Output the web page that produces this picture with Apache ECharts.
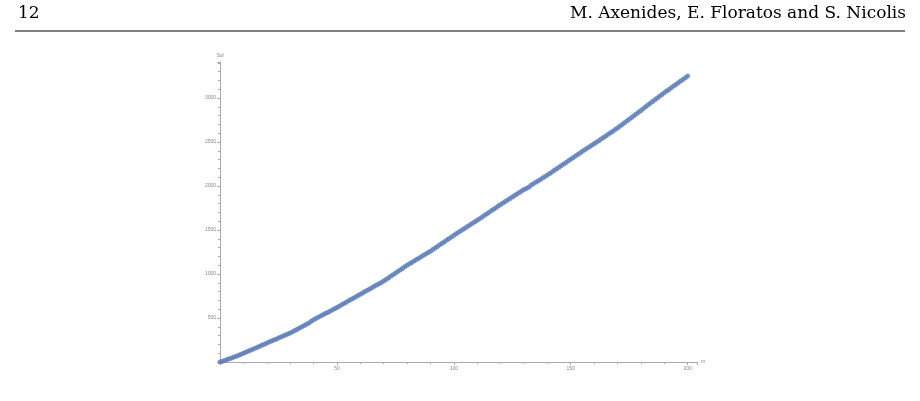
<!DOCTYPE html>
<html><head><meta charset="utf-8">
<script src="https://cdn.jsdelivr.net/npm/echarts@6/dist/echarts.min.js"></script>
<style>html,body{margin:0;background:#fff}#main{width:920px;height:401px}</style>
</head><body><div id="main"></div>
<script>
const xTicks = [0, 50, 100, 150, 200];
const yValues = [
  0, 8, 18, 27, 37, 46, 56, 66, 76, 88, 100,
  111, 122, 134, 145, 157, 168, 180, 192, 203, 215,
  226, 238, 249, 260, 272, 284, 295, 307, 318, 330,
  344, 358, 372, 386, 400, 414, 428, 443, 462, 480,
  494, 508, 522, 536, 550, 564, 578, 592, 606, 620,
  635, 650, 665, 680, 695, 710, 725, 740, 755, 770,
  785, 800, 815, 830, 845, 860, 875, 890, 905, 920,
  938, 956, 974, 992, 1010, 1028, 1046, 1064, 1082, 1100,
  1116, 1132, 1148, 1164, 1180, 1196, 1212, 1228, 1244, 1260,
  1278, 1296, 1314, 1332, 1350, 1368, 1386, 1404, 1422, 1440,
  1457, 1474, 1491, 1508, 1525, 1542, 1559, 1576, 1593, 1610,
  1628, 1646, 1664, 1682, 1700, 1718, 1736, 1754, 1772, 1790,
  1807, 1824, 1841, 1858, 1875, 1892, 1909, 1926, 1943, 1960,
  1972, 1985, 2010, 2026, 2042, 2058, 2074, 2091, 2108, 2125,
  2143, 2161, 2179, 2197, 2215, 2233, 2251, 2269, 2287, 2305,
  2323, 2341, 2359, 2377, 2395, 2412, 2429, 2446, 2463, 2480,
  2498, 2516, 2534, 2552, 2570, 2588, 2606, 2624, 2642, 2660,
  2680, 2700, 2720, 2740, 2760, 2780, 2800, 2820, 2840, 2860,
  2880, 2900, 2920, 2940, 2960, 2980, 3000, 3020, 3040, 3060,
  3079, 3098, 3117, 3136, 3155, 3174, 3193, 3212, 3231, 3250
];

const chart = echarts.init(document.getElementById("main"));
const axisGrey = "#aaa";
chart.setOption({
  animation: false,
  grid: { left: 220, right: 223, top: 62, bottom: 39 },
  graphic: [
    { type: "text", left: 18, top: 5, style: { text: "12", font: "17px 'DejaVu Serif'", fill: "#000" } },
    { type: "text", right: 14, top: 5, style: { text: "M. Axenides, E. Floratos and S. Nicolis", font: "17px 'DejaVu Serif'", fill: "#000" } },
    { type: "line", shape: { x1: 15, y1: 31, x2: 905, y2: 31 }, style: { stroke: "#000", lineWidth: 1 } }
  ],
  xAxis: {
    type: "value", min: 0, max: 204, interval: 50,
    name: "m", nameGap: 4, nameTextStyle: { fontSize: 5, color: "#888" },
    axisLine: { lineStyle: { color: axisGrey } },
    axisTick: { lineStyle: { color: axisGrey }, length: 3 },
    minorTick: { show: true, splitNumber: 5, length: 2, lineStyle: { color: axisGrey } },
    axisLabel: { fontSize: 5, color: "#888", margin: 4, showMaxLabel: false,
      formatter: v => (xTicks.includes(v) && v !== 0 ? String(v) : "") },
    splitLine: { show: false }
  },
  yAxis: {
    type: "value", min: 0, max: 3410, interval: 500,
    name: "Sol", nameGap: 4, nameTextStyle: { fontSize: 5, color: "#888", align: "center" },
    axisLine: { show: true, lineStyle: { color: axisGrey } },
    axisTick: { show: true, lineStyle: { color: axisGrey }, length: 3 },
    minorTick: { show: true, splitNumber: 5, length: 2, lineStyle: { color: axisGrey } },
    axisLabel: { fontSize: 5, color: "#888", margin: 4, showMaxLabel: false,
      formatter: v => (v === 0 ? "" : String(v)) },
    splitLine: { show: false }
  },
  series: [{
    type: "scatter",
    data: yValues.map((v, i) => [i, v]),
    symbolSize: 5,
    itemStyle: { color: "#5b7dba" }
  }]
});
</script></body></html>
